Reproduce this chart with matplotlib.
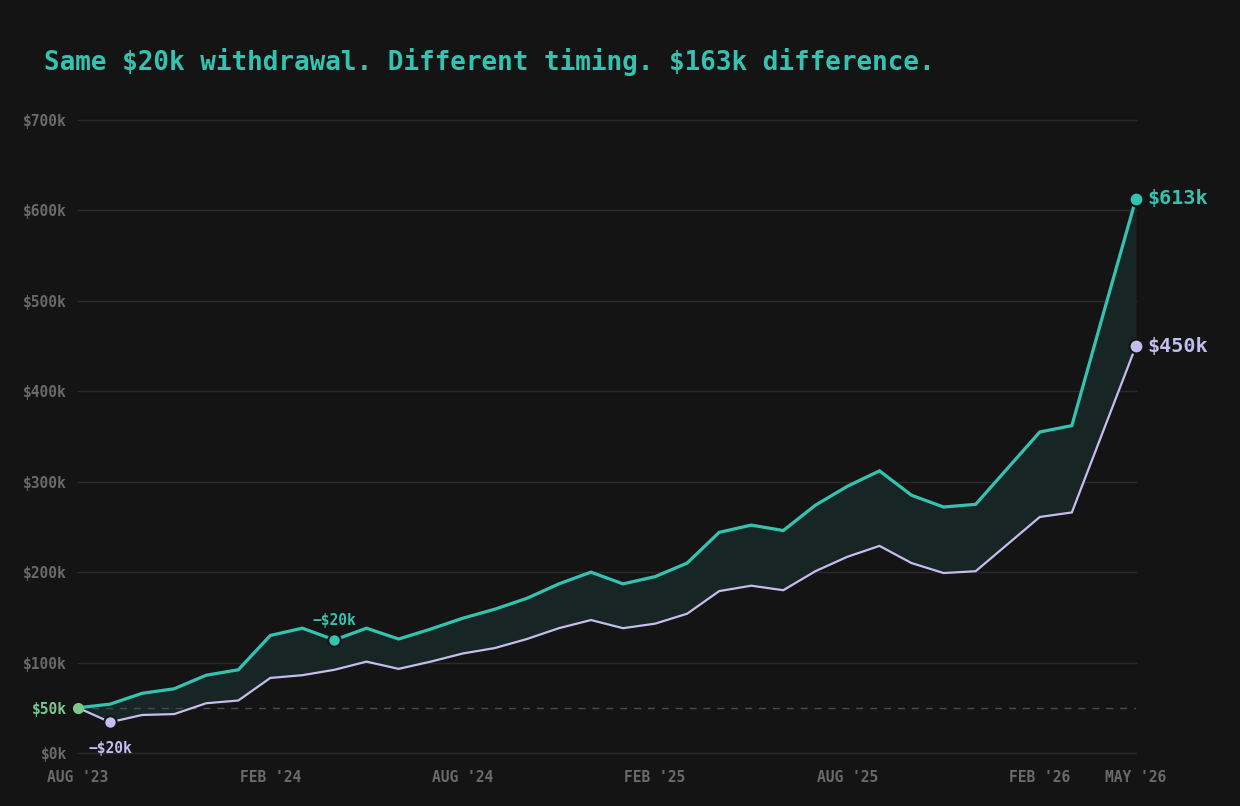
import matplotlib.pyplot as plt

# monthly balances, Aug '23 .. May '26 (in $k)
months = list(range(34))
early = [50, 34, 42, 43, 55, 58, 83, 86, 92, 101, 93, 101, 110, 116, 126, 138, 147,
         138, 143, 154, 179, 185, 180, 201, 217, 229, 210, 199, 201, 231, 261, 266, 358, 450]
late = [50, 54, 66, 71, 86, 92, 130, 138, 125, 138, 126, 137, 149, 159, 171, 187, 200,
        187, 195, 210, 244, 252, 246, 274, 295, 312, 285, 272, 275, 315, 355, 362, 488, 613]
tick_pos = [0, 6, 12, 18, 24, 30, 33]
tick_lbl = ["AUG '23", "FEB '24", "AUG '24", "FEB '25", "AUG '25", "FEB '26", "MAY '26"]
start_val = 50
early_idx = 1
late_idx = 8

bg = "#141414"
teal = "#35c3b1"
lav = "#c3bdf0"
green = "#7cc98e"
mono = "DejaVu Sans Mono"

fig = plt.figure(figsize=(12.4, 8.06), dpi=100, facecolor=bg)
ax = fig.add_axes([0.0629, 0.0658, 0.8532, 0.7853], facecolor=bg)

ax.fill_between(months, early, late, color="#172625", lw=0, zorder=1)
ax.axhline(start_val, color="#4a4a4a", lw=1, ls=(0, (5, 5)), zorder=1)
ax.plot(months, late, color=teal, lw=2.3, zorder=3, solid_joinstyle="miter")
ax.plot(months, early, color=lav, lw=1.6, zorder=3, solid_joinstyle="miter")

# markers
ax.plot(0, start_val, "o", ms=7, color=green, zorder=5, clip_on=False)
ax.plot(early_idx, early[early_idx], "o", ms=9, color=lav, mec=bg, mew=1.5, zorder=5)
ax.plot(late_idx, late[late_idx], "o", ms=9, color=teal, mec=bg, mew=1.5, zorder=5)
ax.plot(33, late[-1], "o", ms=10, color=teal, mec=bg, mew=1.5, zorder=5, clip_on=False)
ax.plot(33, early[-1], "o", ms=10, color=lav, mec=bg, mew=1.5, zorder=5, clip_on=False)

# annotations
ax.annotate("\u2212$20k", (early_idx, early[early_idx]), xytext=(0, -19), textcoords="offset points",
            ha="center", va="center", color=lav, fontsize=10.5, fontweight="bold", family=mono)
ax.annotate("\u2212$20k", (late_idx, late[late_idx]), xytext=(0, 14), textcoords="offset points",
            ha="center", va="center", color=teal, fontsize=10.5, fontweight="bold", family=mono)
ax.annotate("$613k", (33, late[-1]), xytext=(8, 0), textcoords="offset points",
            ha="left", va="center", color=teal, fontsize=14.5, fontweight="bold", family=mono,
            annotation_clip=False)
ax.annotate("$450k", (33, early[-1]), xytext=(8, 0), textcoords="offset points",
            ha="left", va="center", color=lav, fontsize=14.5, fontweight="bold", family=mono,
            annotation_clip=False)

ax.set_xlim(0, 33)
ax.set_ylim(0, 700)
ax.set_yticks([0, 50, 100, 200, 300, 400, 500, 600, 700])
ax.set_yticklabels(["$0k", "$50k", "$100k", "$200k", "$300k", "$400k", "$500k", "$600k", "$700k"])
ax.set_xticks(tick_pos)
ax.set_xticklabels(tick_lbl)
ax.tick_params(length=0, colors="#6a6a6a", labelsize=10.5)
ax.tick_params(axis="y", pad=8)
ax.tick_params(axis="x", pad=12)
for lbl in ax.get_yticklabels() + ax.get_xticklabels():
    lbl.set_family(mono)
    lbl.set_fontweight("bold")
ax.get_yticklabels()[1].set_color(green)

for v in [0, 100, 200, 300, 400, 500, 600, 700]:
    ax.axhline(v, color="#2a2a2a", lw=1, zorder=0, clip_on=False)
for s in ax.spines.values():
    s.set_visible(False)

fig.text(44 / 1240, 1 - 62 / 806, r"Same \$20k withdrawal. Different timing. \$163k difference.",
         color=teal, fontsize=18.7, fontweight="bold", family=mono, ha="left", va="center")

fig.savefig("out.png", dpi=100, facecolor=bg)
